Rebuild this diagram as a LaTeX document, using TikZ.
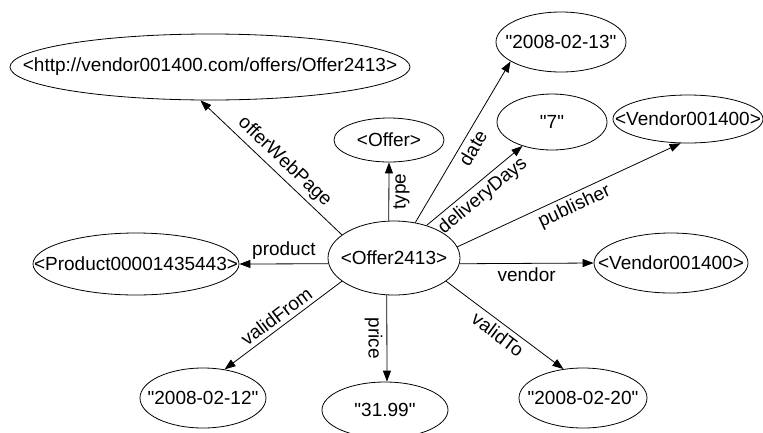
\documentclass[tikz,border=0pt]{standalone}
\usepackage{fontspec}
\setmainfont{Liberation Sans}[Ligatures=TeXOff]
\usetikzlibrary{shapes,arrows.meta,positioning}

\newcommand{\rdfterm}[1]{\makebox[0pt]{#1}}

\begin{document}
\begin{tikzpicture}[x=1pt, y=-1pt]
    % Define styles
    \tikzstyle{term} = [ellipse, draw=black, line width=0.8pt, inner sep=0pt, font=\fontsize{19}{22}\selectfont]
    \tikzstyle{prop} = [-{Triangle[length=11pt, width=8pt]}, line width=0.8pt]
    \tikzstyle{lbl} = [font=\fontsize{19}{22}\selectfont, inner sep=4pt]

    \useasboundingbox (0,0) rectangle (763,432);

    % Subject
    \node[term, minimum width=132pt, minimum height=74pt] (offer) at (394,258) {\rdfterm{<Offer2413>}};

    % Objects
    \node[term, minimum width=400pt, minimum height=66pt] (webpage) at (210,67) {\rdfterm{<http://vendor001400.com/offers/Offer2413>}};
    \node[term, minimum width=110pt, minimum height=44pt] (type) at (389,140) {\rdfterm{<Offer>}};
    \node[term, minimum width=130pt, minimum height=60pt] (date) at (561,42) {\rdfterm{"2008-02-13"}};
    \node[term, minimum width=110pt, minimum height=56pt] (days) at (552,122) {\rdfterm{"7"}};
    \node[term, minimum width=150pt, minimum height=48pt] (publ) at (688,119) {\rdfterm{<Vendor001400>}};
    \node[term, minimum width=206pt, minimum height=62pt] (product) at (136,264) {\rdfterm{<Product00001435443>}};
    \node[term, minimum width=154pt, minimum height=60pt] (vend) at (671,263) {\rdfterm{<Vendor001400>}};
    \node[term, minimum width=126pt, minimum height=60pt] (from) at (203,398) {\rdfterm{"2008-02-12"}};
    \node[term, minimum width=126pt, minimum height=56pt] (price) at (385,410) {\rdfterm{"31.99"}};
    \node[term, minimum width=128pt, minimum height=60pt] (to) at (583,398) {\rdfterm{"2008-02-20"}};

    % Properties
    \draw[prop] (offer.156) -- (webpage.254) node[lbl, pos=0.47, sloped, above] {offerWebPage};
    \draw[prop] (offer.98) -- (type.270) node[lbl, midway, rotate=90, anchor=north] {type};
    \draw[prop] (offer.59) -- (date.201) node[lbl, midway, sloped, below] {date};
    \draw[prop] (offer.45) -- (days.219) node[lbl, midway, sloped, below] {deliveryDays};
    \draw[prop] (offer.10) -- (publ.253) node[lbl, midway, sloped, below] {publisher};
    \draw[prop] (offer.-5) -- (vend.180) node[lbl, midway, below] {vendor};
    \draw[prop] (offer.185) -- (product.0) node[lbl, midway, above] {product};
    \draw[prop] (offer.204) -- (from.53) node[lbl, midway, sloped, above] {validFrom};
    \draw[prop] (offer.259) -- (price.86) node[lbl, midway, rotate=-90, anchor=north] {price};
    \draw[prop] (offer.336) -- (to.124) node[lbl, midway, sloped, below] {validTo};

\end{tikzpicture}
\end{document}
